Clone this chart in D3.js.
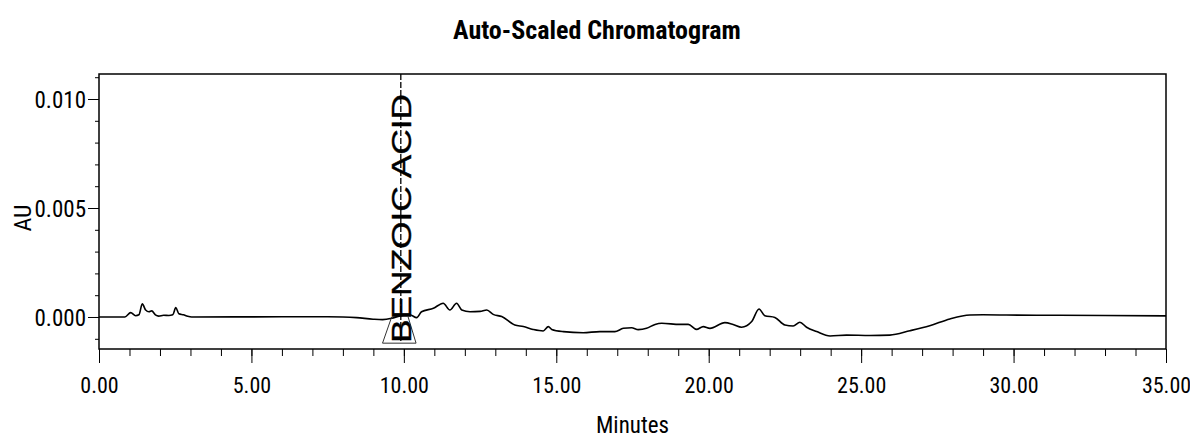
<!DOCTYPE html>
<html>
<head>
<meta charset="utf-8">
<script src="https://cdn.jsdelivr.net/npm/d3@7"></script>
<style>
  body { margin: 0; background: #fff; }
  svg { display: block; }
  .narrow { font-family: "Liberation Sans Narrow", "Arial Narrow", "Roboto Condensed", sans-serif; }
</style>
</head>
<body>
<svg id="chart" width="1190" height="441"></svg>
<script>
// retention time (minutes) and absorbance (AU)
var times = [0.0, 0.85, 1.04, 1.20, 1.31, 1.42, 1.53, 1.64, 1.73, 1.85, 1.96, 2.12, 2.29, 2.42, 2.52, 2.62, 2.77, 2.91, 3.04,
             6.0, 7.5, 8.0, 8.45, 8.99, 9.30, 9.60, 9.87, 10.20, 10.42, 10.58, 10.97, 11.29, 11.51, 11.73, 11.90, 12.17, 12.50,
             12.72, 12.93, 13.21, 13.64, 13.92, 14.24, 14.57, 14.74, 14.85, 15.23, 15.88, 16.43, 16.92, 17.20, 17.47, 17.69,
             17.96, 18.24, 18.46, 19.05, 19.33, 19.60, 19.82, 20.04, 20.53, 20.80, 21.08, 21.41, 21.65, 21.84, 22.17, 22.50,
             22.77, 22.99, 23.21, 23.54, 23.98, 24.52, 25.29, 25.94, 26.60, 27.25, 27.91, 28.57, 29.00, 29.77, 31.5, 33.0, 35.0];
var au = [0, 0, 0.00020, 0.00006, 0.00010, 0.00060, 0.00032, 0.00024, 0.00028, 0.00010, 0.00004, 0.00008, 0.00007, 0.00010, 0.00043, 0.00015, 0.00010, 0.00003, 0,
          0.00001, 0.00001, 0.0, -0.00003, -0.00010, -0.00012, -0.00006, 0.00005, 0.00010, -0.00003, 0.00024, 0.00040, 0.00063, 0.00032, 0.00063, 0.00032, 0.00024, 0.00026,
          0.00032, 0.00012, 0.00002, -0.00037, -0.00044, -0.00057, -0.00064, -0.00044, -0.00057, -0.00067, -0.00072, -0.00067, -0.00067, -0.00052, -0.00049, -0.00058,
          -0.00052, -0.00034, -0.00029, -0.00034, -0.00034, -0.00057, -0.00044, -0.00052, -0.00026, -0.00034, -0.00047, -0.00021, 0.00037, 0.00006, -0.00002, -0.00037,
          -0.00041, -0.00024, -0.00047, -0.00067, -0.00087, -0.00083, -0.00085, -0.00083, -0.00063, -0.00040, -0.00009, 0.00009, 0.00010, 0.00009, 0.00008, 0.00007, 0.00005];

// peak annotation
var peakName = "BENZOIC ACID";
var peakRT = 9.9;
var peakMarkT = [9.60, 9.30, 10.40, 10.14];
var peakMarkAU = [0.0, -0.0012, -0.0012, 0.0];

var xMajor = [0, 5, 10, 15, 20, 25, 30, 35];
var yMajor = [0, 0.005, 0.010];

var svg = d3.select("#chart");
var plotL = 99, plotR = 1166, plotT = 74, plotB = 349;

var x = d3.scaleLinear().domain([0, 35]).range([plotL, plotR]);
var y = d3.scaleLinear().domain([-0.001468, 0.011147]).range([plotB, plotT]);

// frame
svg.append("rect")
    .attr("x", plotL).attr("y", plotT)
    .attr("width", plotR - plotL).attr("height", plotB - plotT)
    .attr("fill", "none").attr("stroke", "#000").attr("stroke-width", 1.5);

// y axis, minor then major
svg.append("g")
    .attr("transform", `translate(${plotL},0)`)
    .call(d3.axisLeft(y).tickValues(d3.range(-0.001, 0.0115, 0.001)).tickSize(4).tickFormat(""))
    .call(g => g.select(".domain").remove());

svg.append("g")
    .attr("class", "narrow")
    .attr("transform", `translate(${plotL},0)`)
    .call(d3.axisLeft(y).tickValues(yMajor).tickSize(11).tickPadding(2).tickFormat(d3.format(".3f")))
    .call(g => g.select(".domain").remove())
    .call(g => g.selectAll("text").attr("font-size", 23).attr("fill", "#000")
        .attr("font-family", null).attr("dy", "0.36em"));

// x axis
svg.append("g")
    .attr("transform", `translate(0,${plotB})`)
    .call(d3.axisBottom(x).tickValues(d3.range(0, 36, 1)).tickSize(7).tickFormat(""))
    .call(g => g.select(".domain").remove());

svg.append("g")
    .attr("class", "narrow")
    .attr("transform", `translate(0,${plotB})`)
    .call(d3.axisBottom(x).tickValues(xMajor).tickSize(14).tickFormat(d3.format(".2f")))
    .call(g => g.select(".domain").remove())
    .call(g => g.selectAll("text").attr("font-size", 22).attr("fill", "#000")
        .attr("font-family", null).attr("y", 28).attr("dy", "0.71em"));

// trace
var line = d3.line()
    .x((d, i) => x(times[i]))
    .y(d => y(d))
    .curve(d3.curveMonotoneX);

svg.append("path")
    .datum(au)
    .attr("d", line)
    .attr("fill", "none")
    .attr("stroke", "#000")
    .attr("stroke-width", 1.6);

// peak marker
svg.append("path")
    .datum(peakMarkAU)
    .attr("d", d3.line().x((d, i) => x(peakMarkT[i])).y(d => y(d)))
    .attr("fill", "none")
    .attr("stroke", "#333")
    .attr("stroke-width", 1);

svg.append("line")
    .attr("x1", x(peakRT)).attr("x2", x(peakRT))
    .attr("y1", plotT).attr("y2", plotB - 8)
    .attr("stroke", "#000").attr("stroke-width", 1.3)
    .attr("stroke-dasharray", "6,2");

svg.append("text")
    .attr("transform", `translate(${x(peakRT) + 10},${plotB - 6}) rotate(-90)`)
    .attr("font-family", "Liberation Sans, Arial, sans-serif")
    .attr("font-size", 27)
    .attr("stroke", "#000").attr("stroke-width", 0.4)
    .attr("textLength", 249)
    .attr("lengthAdjust", "spacingAndGlyphs")
    .text(peakName);

// titles
svg.append("text")
    .attr("class", "narrow")
    .attr("x", 597).attr("y", 39)
    .attr("text-anchor", "middle")
    .attr("font-size", 26).attr("font-weight", "bold")
    .text("Auto-Scaled Chromatogram");

svg.append("text")
    .attr("class", "narrow")
    .attr("x", (plotL + plotR) / 2).attr("y", 433)
    .attr("text-anchor", "middle")
    .attr("font-size", 23)
    .text("Minutes");

svg.append("text")
    .attr("class", "narrow")
    .attr("transform", "translate(31,218) rotate(-90)")
    .attr("text-anchor", "middle")
    .attr("font-size", 24)
    .text("AU");
</script>
</body>
</html>
